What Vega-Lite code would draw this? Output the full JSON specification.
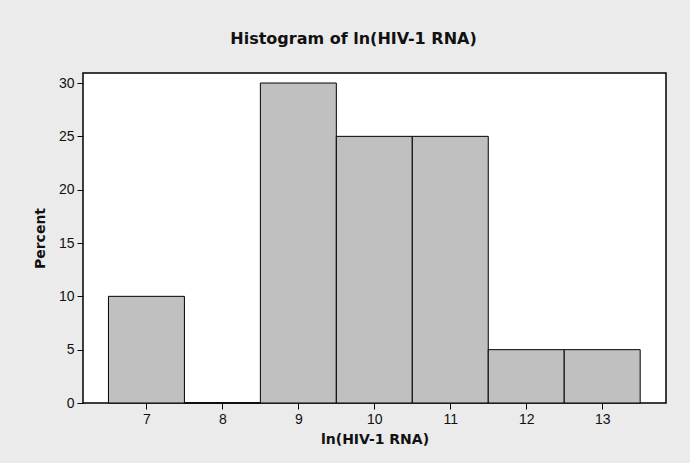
{
  "$schema": "https://vega.github.io/schema/vega-lite/v6.json",
  "autosize": "none",
  "width": 583,
  "height": 330,
  "padding": {"left": 83, "top": 73, "right": 24, "bottom": 60},
  "background": "#ebebeb",
  "title": {
    "text": "Histogram of ln(HIV-1 RNA)",
    "font": "DejaVu Sans",
    "fontSize": 16,
    "fontWeight": "bold",
    "color": "#111111",
    "anchor": "middle",
    "frame": "group",
    "dx": -21,
    "baseline": "alphabetic",
    "offset": 13
  },
  "data": {
    "values": [
      {"bin_start": 6.5, "bin_end": 7.5, "percent": 10},
      {"bin_start": 7.5, "bin_end": 8.5, "percent": 0},
      {"bin_start": 8.5, "bin_end": 9.5, "percent": 30},
      {"bin_start": 9.5, "bin_end": 10.5, "percent": 25},
      {"bin_start": 10.5, "bin_end": 11.5, "percent": 25},
      {"bin_start": 11.5, "bin_end": 12.5, "percent": 5},
      {"bin_start": 12.5, "bin_end": 13.5, "percent": 5}
    ]
  },
  "mark": {"type": "rect", "fill": "#c0c0c0", "stroke": "#000000", "strokeWidth": 1},
  "encoding": {
    "x": {
      "field": "bin_start",
      "type": "quantitative",
      "scale": {"domain": [6.165, 13.84], "nice": false, "zero": false},
      "axis": {
        "title": "ln(HIV-1 RNA)",
        "values": [7, 8, 9, 10, 11, 12, 13],
        "grid": false,
        "domain": false,
        "tickSize": 6,
        "tickColor": "#000000",
        "labelFont": "Liberation Sans",
        "labelFontSize": 14,
        "labelColor": "#111111",
        "labelPadding": 3,
        "titleFont": "DejaVu Sans",
        "titleFontSize": 14,
        "titleFontWeight": "bold",
        "titleColor": "#111111",
        "titlePadding": 6
      }
    },
    "x2": {"field": "bin_end"},
    "y": {
      "field": "percent",
      "type": "quantitative",
      "scale": {"domain": [0, 30.94], "nice": false},
      "axis": {
        "title": "Percent",
        "values": [0, 5, 10, 15, 20, 25, 30],
        "grid": false,
        "domain": false,
        "tickSize": 6,
        "tickColor": "#000000",
        "labelFont": "Liberation Sans",
        "labelFontSize": 14,
        "labelColor": "#111111",
        "labelPadding": 3,
        "titleFont": "DejaVu Sans",
        "titleFontSize": 14,
        "titleFontWeight": "bold",
        "titleColor": "#111111",
        "titlePadding": 11
      }
    },
    "y2": {"datum": 0}
  },
  "config": {
    "view": {"fill": "#ffffff", "stroke": "#000000", "strokeWidth": 1.5}
  }
}
